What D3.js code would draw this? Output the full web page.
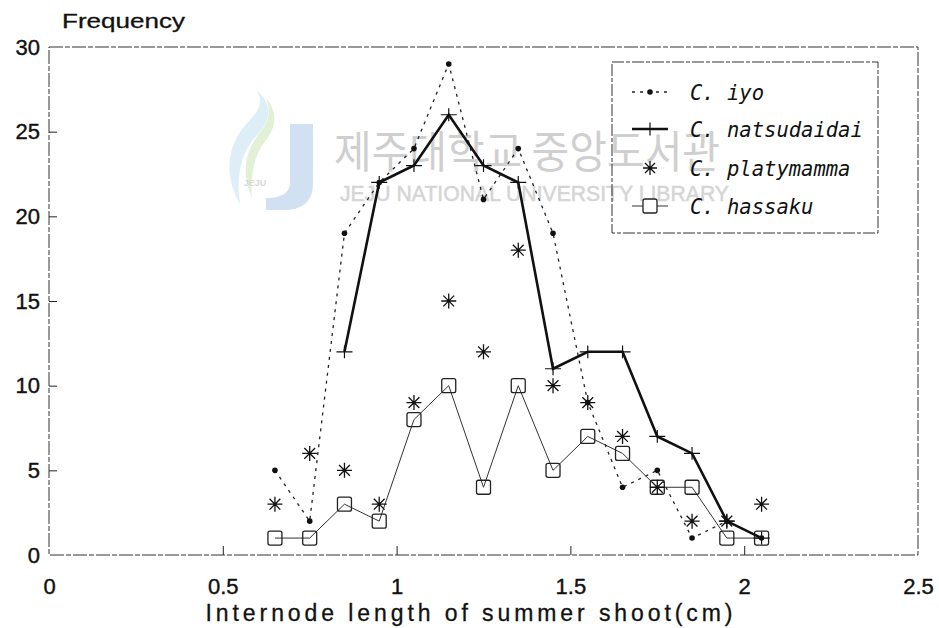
<!DOCTYPE html>
<meta charset="utf-8">
<head>
    <script type="text/javascript" src="https://cdn.jsdelivr.net/npm/d3@7"></script>
    <style>
        body { margin: 0; background: #fff; }
        text { font-family: "Liberation Sans", Arial, sans-serif; fill: #111; }
        .legend text { font-family: "DejaVu Sans Mono", monospace; font-style: italic; }
    </style>
</head>

<body>
<div id="chart"></div>
</body>

<script>

    // data
    var lengths = [0.65, 0.75, 0.85, 0.95, 1.05, 1.15, 1.25, 1.35, 1.45, 1.55, 1.65, 1.75, 1.85, 1.95, 2.05];
    var iyo = [5, 2, 19, 22, 24, 29, 21, 24, 19, 9, 4, 5, 1, 2, 1];
    var natsudaidai = [null, null, 12, 22, 23, 26, 23, 22, 11, 12, 12, 7, 6, 2, 1];
    var platymamma = [3, 6, 5, 3, 9, 15, 12, 18, 10, 9, 7, 4, 2, 2, 3];
    var hassaku = [1, 1, 3, 2, 8, 10, 4, 10, 5, 7, 6, 4, 4, 1, 1];
    var seriesNames = ["C. iyo", "C. natsudaidai", "C. platymamma", "C. hassaku"];
    var xTicks = [0, 0.5, 1, 1.5, 2, 2.5];
    var yTicks = [0, 5, 10, 15, 20, 25, 30];

    var width = 939, height = 628;
    var margin = {top: 47, right: 21, bottom: 73, left: 49};

    var svg = d3.select('#chart')
        .append('svg')
        .attr('width', width)
        .attr('height', height);

    var x = d3.scaleLinear().domain([0, 2.5]).range([margin.left, width - margin.right]);
    var y = d3.scaleLinear().domain([0, 30]).range([height - margin.bottom, margin.top]);

    // library watermark behind the plot
    var wm = svg.append("g").attr("class", "watermark").attr("opacity", 0.8);
    wm.append("path")
        .attr("d", "M240,204 C222,172 228,142 250,120 C262,108 262,98 256,90 C272,102 272,120 258,134 C240,152 236,178 240,204 Z")
        .attr("fill", "#d6eaf4");
    wm.append("path")
        .attr("d", "M252,198 C240,172 246,148 262,130 C270,120 270,108 266,98 C278,112 276,128 266,140 C254,154 250,176 252,198 Z")
        .attr("fill", "#dcedcc");
    wm.append("path")
        .attr("d", "M290,124 L313,124 L313,184 C313,202 301,210 285,210 L266,210 L266,198 C280,198 290,194 290,182 Z")
        .attr("fill", "#c6daee");
    wm.append("text").attr("x", 255).attr("y", 186)
        .attr("text-anchor", "middle")
        .style("font-size", "9px").style("font-weight", "bold").style("fill", "#cfcfcf")
        .text("JEJU");
    wm.append("text")
        .attr("x", 334).attr("y", 168)
        .attr("textLength", 386).attr("lengthAdjust", "spacingAndGlyphs")
        .style("font-family", "'Noto Sans CJK KR', sans-serif")
        .style("font-size", "44px")
        .style("fill", "#c4c4c4")
        .text("제주대학교 중앙도서관");
    wm.append("text")
        .attr("x", 340).attr("y", 201)
        .attr("textLength", 389).attr("lengthAdjust", "spacingAndGlyphs")
        .style("font-size", "22px")
        .style("fill", "#cbcbcb")
        .style("stroke", "#cbcbcb").style("stroke-width", 0.5)
        .text("JEJU NATIONAL UNIVERSITY LIBRARY");

    // frame
    svg.append("rect")
        .attr("x", x(0)).attr("y", y(30))
        .attr("width", x(2.5) - x(0)).attr("height", y(0) - y(30))
        .attr("fill", "none")
        .attr("stroke", "#333")
        .attr("stroke-width", 1)
        .attr("stroke-dasharray", "14 2 5 2");

    // axes with inward ticks
    var xAxis = svg.append("g")
        .attr("transform", "translate(0," + y(0) + ")")
        .call(d3.axisBottom(x).tickValues(xTicks).tickFormat(d3.format("")).tickSize(-9).tickPadding(23));
    var yAxis = svg.append("g")
        .attr("transform", "translate(" + x(0) + ",0)")
        .call(d3.axisLeft(y).tickValues(yTicks).tickSize(-8).tickPadding(9));
    [xAxis, yAxis].forEach(function (g) {
        g.select(".domain").remove();
        g.selectAll("line").attr("stroke", "#222");
        g.selectAll("text").style("font-size", "22px").style("fill", "#111")
            .style("stroke", "#111").style("stroke-width", 0.4)
            .style("font-family", "'Liberation Sans', Arial, sans-serif");
    });
    xAxis.selectAll(".tick").filter(function (d) { return d === 0 || d === 2.5; }).select("line").remove();
    yAxis.selectAll(".tick").filter(function (d) { return d === 0 || d === 30; }).select("line").remove();

    svg.append("text")
        .attr("x", 62).attr("y", 28)
        .attr("textLength", 123).attr("lengthAdjust", "spacingAndGlyphs")
        .style("font-size", "21px")
        .style("stroke", "#111").style("stroke-width", 0.3)
        .text("Frequency");

    // x title: widen by letter spacing to the span it has in the figure
    var xTitle = svg.append("text")
        .attr("x", 471).attr("y", 621)
        .attr("text-anchor", "middle")
        .style("font-size", "23px")
        .style("stroke", "#111").style("stroke-width", 0.3)
        .text("Internode length of summer shoot(cm)");
    var natural = xTitle.node().getComputedTextLength();
    var nChars = xTitle.text().length;
    xTitle.style("letter-spacing", ((527 - natural) / (nChars - 1)) + "px");

    // marker shapes
    function plusPath(s) { return "M" + (-s) + ",0H" + s + "M0," + (-s * 0.8) + "V" + (s * 0.8); }
    function starPath(s) {
        var d = s * 0.72;
        return "M" + (-s) + ",0H" + s + "M0," + (-s) + "V" + s +
            "M" + (-d) + "," + (-d) + "L" + d + "," + d + "M" + (-d) + "," + d + "L" + d + "," + (-d);
    }

    function pairs(values) {
        return lengths.map(function (l, i) { return {x: l, y: values[i]}; })
            .filter(function (p) { return p.y !== null; });
    }
    var line = d3.line().x(function (d) { return x(d.x); }).y(function (d) { return y(d.y); });

    var plot = svg.append("g");

    // C. iyo: dotted line with small dots
    plot.append("path").datum(pairs(iyo)).attr("d", line)
        .attr("fill", "none").attr("stroke", "#222").attr("stroke-width", 1.3)
        .attr("stroke-dasharray", "3 5");
    plot.selectAll(".iyo").data(pairs(iyo)).enter().append("circle")
        .attr("cx", function (d) { return x(d.x); })
        .attr("cy", function (d) { return y(d.y); })
        .attr("r", 2.8).attr("fill", "#111");

    // C. hassaku: thin line with open squares
    plot.append("path").datum(pairs(hassaku)).attr("d", line)
        .attr("fill", "none").attr("stroke", "#333").attr("stroke-width", 1);
    plot.selectAll(".hassaku").data(pairs(hassaku)).enter().append("rect")
        .attr("x", function (d) { return x(d.x) - 7; })
        .attr("y", function (d) { return y(d.y) - 7; })
        .attr("width", 14).attr("height", 14).attr("rx", 2)
        .attr("fill", "none").attr("stroke", "#222").attr("stroke-width", 1.3);

    // C. natsudaidai: thick line with plus marks
    plot.append("path").datum(pairs(natsudaidai)).attr("d", line)
        .attr("fill", "none").attr("stroke", "#111").attr("stroke-width", 2.6);
    plot.selectAll(".nat").data(pairs(natsudaidai)).enter().append("path")
        .attr("transform", function (d) { return "translate(" + x(d.x) + "," + y(d.y) + ")"; })
        .attr("d", plusPath(8))
        .attr("fill", "none").attr("stroke", "#111").attr("stroke-width", 1.2);

    // C. platymamma: stars only
    plot.selectAll(".platy").data(pairs(platymamma)).enter().append("path")
        .attr("transform", function (d) { return "translate(" + x(d.x) + "," + y(d.y) + ")"; })
        .attr("d", starPath(7.5))
        .attr("fill", "none").attr("stroke", "#111").attr("stroke-width", 1.3);

    // legend
    var legend = svg.append("g").attr("class", "legend");
    legend.append("rect")
        .attr("x", 612).attr("y", 62).attr("width", 266).attr("height", 171)
        .attr("fill", "none").attr("stroke", "#333").attr("stroke-width", 1)
        .attr("stroke-dasharray", "12 2 4 2");
    var rows = [92, 129, 168, 206];
    rows.forEach(function (ry, i) {
        var g = legend.append("g").attr("transform", "translate(650," + ry + ")");
        if (i === 0) {
            g.append("line").attr("x1", -18).attr("x2", 18)
                .attr("stroke", "#222").attr("stroke-width", 1.3).attr("stroke-dasharray", "3 5");
            g.append("circle").attr("r", 2.8).attr("fill", "#111");
        } else if (i === 1) {
            g.append("line").attr("x1", -18).attr("x2", 18)
                .attr("stroke", "#111").attr("stroke-width", 2.6);
            g.append("path").attr("d", plusPath(8)).attr("stroke", "#111").attr("stroke-width", 1.2);
        } else if (i === 2) {
            g.append("path").attr("d", starPath(7)).attr("stroke", "#111").attr("stroke-width", 1.3);
        } else {
            g.append("line").attr("x1", -18).attr("x2", 18)
                .attr("stroke", "#333").attr("stroke-width", 1);
            g.append("rect").attr("x", -7).attr("y", -7).attr("width", 14).attr("height", 14).attr("rx", 2)
                .attr("fill", "#fff").attr("stroke", "#222").attr("stroke-width", 1.3);
        }
        legend.append("text")
            .attr("x", 690).attr("y", ry + 8)
            .style("font-size", "20.5px")
            .text(seriesNames[i]);
    });
</script>

</html>
